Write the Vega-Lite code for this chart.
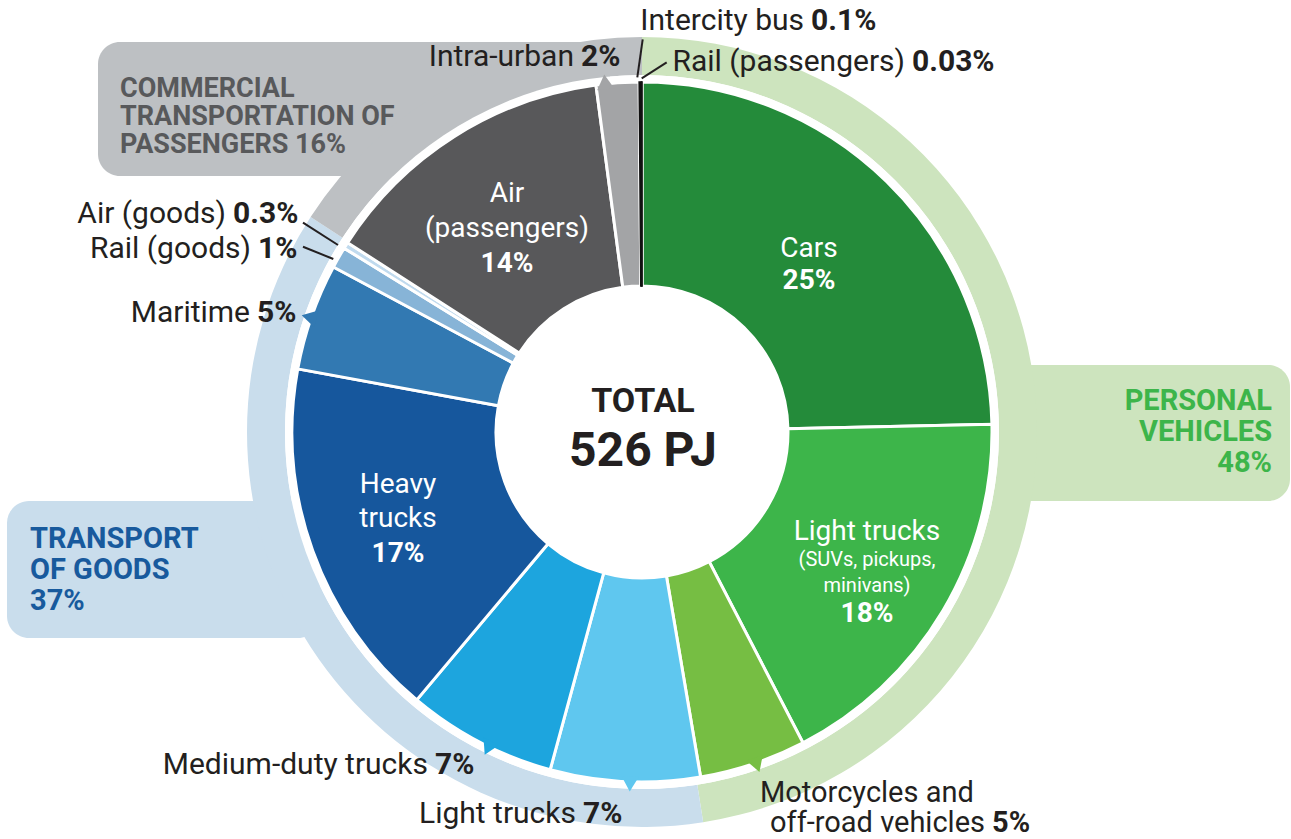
{
  "$schema": "https://vega.github.io/schema/vega-lite/v6.json",
  "width": 1291,
  "height": 839,
  "autosize": {"type": "fit", "contains": "padding"},
  "padding": 0,
  "background": "white",
  "config": {
    "view": {"stroke": null},
    "axis": {"disable": true},
    "font": "Roboto",
    "text": {"baseline": "alphabetic", "font": "Roboto"}
  },
  "datasets": {
    "seg": [
      {"ord": 1, "group": "Personal vehicles", "seg": "Cars", "name": "Cars", "lines": ["Cars"], "pct": "25%", "value": 25},
      {"ord": 2, "group": "Personal vehicles", "seg": "Light trucks (personal)", "name": "Light trucks", "lines": ["Light trucks"], "note": ["(SUVs, pickups,", "minivans)"], "pct": "18%", "value": 18},
      {"ord": 3, "group": "Personal vehicles", "seg": "Motorcycles and off-road vehicles", "name": "Motorcycles and off-road vehicles", "lines": ["Motorcycles and", "off-road vehicles"], "pct": "5%", "value": 5},
      {"ord": 4, "group": "Transport of goods", "seg": "Light trucks (goods)", "name": "Light trucks", "lines": ["Light trucks"], "pct": "7%", "value": 7},
      {"ord": 5, "group": "Transport of goods", "seg": "Medium-duty trucks", "name": "Medium-duty trucks", "lines": ["Medium-duty trucks"], "pct": "7%", "value": 7},
      {"ord": 6, "group": "Transport of goods", "seg": "Heavy trucks", "name": "Heavy trucks", "lines": ["Heavy", "trucks"], "pct": "17%", "value": 17},
      {"ord": 7, "group": "Transport of goods", "seg": "Maritime", "name": "Maritime", "lines": ["Maritime"], "pct": "5%", "value": 5},
      {"ord": 8, "group": "Transport of goods", "seg": "Rail (goods)", "name": "Rail (goods)", "lines": ["Rail (goods)"], "pct": "1%", "value": 1},
      {"ord": 9, "group": "Transport of goods", "seg": "Air (goods)", "name": "Air (goods)", "lines": ["Air (goods)"], "pct": "0.3%", "value": 0.3},
      {"ord": 10, "group": "Commercial transportation of passengers", "seg": "Air (passengers)", "name": "Air (passengers)", "lines": ["Air", "(passengers)"], "pct": "14%", "value": 14},
      {"ord": 11, "group": "Commercial transportation of passengers", "seg": "Intra-urban", "name": "Intra-urban", "lines": ["Intra-urban"], "pct": "2%", "value": 2},
      {"ord": 12, "group": "Commercial transportation of passengers", "seg": "Intercity bus", "name": "Intercity bus", "lines": ["Intercity bus"], "pct": "0.1%", "value": 0.1},
      {"ord": 13, "group": "Commercial transportation of passengers", "seg": "Rail (passengers)", "name": "Rail (passengers)", "lines": ["Rail (passengers)"], "pct": "0.03%", "value": 0.03}
    ],
    "grp": [
      {"ord": 1, "group": "Personal vehicles", "lines": ["PERSONAL", "VEHICLES", "48%"], "value": 48},
      {"ord": 2, "group": "Transport of goods", "lines": ["TRANSPORT", "OF GOODS", "37%"], "value": 37},
      {"ord": 3, "group": "Commercial transportation of passengers", "lines": ["COMMERCIAL", "TRANSPORTATION OF", "PASSENGERS 16%"], "value": 16}
    ],
    "tot": [{"title": "TOTAL", "total": "526 PJ"}]
  },
  "layer": [
    {
      "data": {"name": "grp"},
      "transform": [{"filter": "datum.ord == 1"}],
      "mark": {"type": "rect", "color": "#cde4be", "cornerRadius": 22},
      "encoding": {
        "x": {"datum": 3.63, "type": "quantitative", "scale": {"domain": [-6.42, 6.49], "nice": false, "zero": false}, "axis": null},
        "x2": {"datum": 6.48},
        "y": {"datum": 0.67, "type": "quantitative", "scale": {"domain": [-4.07, 4.32], "nice": false, "zero": false}, "axis": null},
        "y2": {"datum": -0.69}
      }
    },
    {
      "data": {"name": "grp"},
      "transform": [{"filter": "datum.ord == 2"}],
      "mark": {"type": "rect", "color": "#c9ddec", "cornerRadius": 22},
      "encoding": {"x": {"datum": -6.35}, "x2": {"datum": -3.22}, "y": {"datum": -0.69}, "y2": {"datum": -2.06}}
    },
    {
      "data": {"name": "grp"},
      "transform": [{"filter": "datum.ord == 3"}],
      "mark": {"type": "rect", "color": "#bdc0c3", "cornerRadius": 22},
      "encoding": {"x": {"datum": -5.44}, "x2": {"datum": -0.32}, "y": {"datum": 3.9}, "y2": {"datum": 2.56}}
    },
    {
      "data": {"name": "grp"},
      "mark": {"type": "arc", "radius": 395, "radius2": 357},
      "encoding": {
        "x": {"datum": 0},
        "y": {"datum": 0},
        "theta": {"field": "value", "type": "quantitative", "stack": true},
        "order": {"field": "ord", "type": "quantitative"},
        "color": {"field": "group", "type": "nominal", "legend": null,
          "scale": {"domain": ["Personal vehicles", "Transport of goods", "Commercial transportation of passengers"], "range": ["#cde4be", "#c9ddec", "#bdc0c3"]}}
      }
    },
    {
      "data": {"name": "tot"},
      "mark": {"type": "arc", "radius": 357, "radius2": 0, "theta": 0, "theta2": 6.2832, "color": "white"},
      "encoding": {"x": {"datum": 0}, "y": {"datum": 0}}
    },
    {
      "data": {"name": "seg"},
      "mark": {"type": "arc", "radius": 350, "radius2": 146, "stroke": "white", "strokeWidth": 3},
      "encoding": {
        "x": {"datum": 0},
        "y": {"datum": 0},
        "theta": {"field": "value", "type": "quantitative", "stack": true},
        "order": {"field": "ord", "type": "quantitative"},
        "color": {"field": "seg", "type": "nominal", "legend": null,
          "scale": {
            "domain": ["Cars", "Light trucks (personal)", "Motorcycles and off-road vehicles", "Light trucks (goods)", "Medium-duty trucks", "Heavy trucks", "Maritime", "Rail (goods)", "Air (goods)", "Air (passengers)", "Intra-urban", "Intercity bus", "Rail (passengers)"],
            "range": ["#248b3a", "#3db54a", "#76be43", "#5fc7ef", "#1da5de", "#16579d", "#3279b2", "#87b4d7", "#c0daee", "#58585a", "#a3a4a6", "#231f20", "#000000"]
          }}
      }
    },
    {
      "data": {"name": "seg"},
      "mark": {"type": "arc", "radius": 350, "radius2": 146, "fill": "#111111", "stroke": "#111111", "strokeWidth": 1.6},
      "encoding": {
        "x": {"datum": 0},
        "y": {"datum": 0},
        "theta": {"field": "value", "type": "quantitative", "stack": true},
        "order": {"field": "ord", "type": "quantitative"},
        "fillOpacity": {"condition": {"test": "datum.ord >= 12", "value": 1}, "value": 0},
        "strokeOpacity": {"condition": {"test": "datum.ord >= 12", "value": 1}, "value": 0}
      }
    },
    {
      "data": {"name": "seg"}, "transform": [{"filter": "datum.ord == 11"}],
      "mark": {"type": "point", "shape": "triangle-up", "filled": true, "size": 300, "opacity": 1, "angle": 354, "color": "#a3a4a6"},
      "encoding": {"x": {"datum": -0.37}, "y": {"datum": 3.5}}
    },
    {
      "data": {"name": "seg"}, "transform": [{"filter": "datum.ord == 7"}],
      "mark": {"type": "point", "shape": "triangle-up", "filled": true, "size": 300, "opacity": 1, "angle": 284, "color": "#3279b2"},
      "encoding": {"x": {"datum": -3.33}, "y": {"datum": 1.15}}
    },
    {
      "data": {"name": "seg"}, "transform": [{"filter": "datum.ord == 5"}],
      "mark": {"type": "point", "shape": "triangle-up", "filled": true, "size": 300, "opacity": 1, "angle": 206, "color": "#1da5de"},
      "encoding": {"x": {"datum": -1.54}, "y": {"datum": -3.16}}
    },
    {
      "data": {"name": "seg"}, "transform": [{"filter": "datum.ord == 4"}],
      "mark": {"type": "point", "shape": "triangle-up", "filled": true, "size": 300, "opacity": 1, "angle": 182, "color": "#5fc7ef"},
      "encoding": {"x": {"datum": -0.12}, "y": {"datum": -3.52}}
    },
    {
      "data": {"name": "seg"}, "transform": [{"filter": "datum.ord == 3"}],
      "mark": {"type": "point", "shape": "triangle-up", "filled": true, "size": 300, "opacity": 1, "angle": 161, "color": "#76be43"},
      "encoding": {"x": {"datum": 1.15}, "y": {"datum": -3.33}}
    },
    {
      "data": {"name": "seg"},
      "transform": [{"filter": "datum.ord == 12"}],
      "mark": {"type": "rule", "color": "#231f20", "strokeWidth": 2},
      "encoding": {"x": {"datum": 0.007}, "y": {"datum": 3.927}, "x2": {"datum": -0.047}, "y2": {"datum": 3.547}}
    },
    {
      "data": {"name": "seg"},
      "transform": [{"filter": "datum.ord == 13"}],
      "mark": {"type": "rule", "color": "#231f20", "strokeWidth": 2},
      "encoding": {"x": {"datum": 0.247}, "y": {"datum": 3.697}, "x2": {"datum": -0.003}, "y2": {"datum": 3.537}}
    },
    {
      "data": {"name": "seg"},
      "transform": [{"filter": "datum.ord == 9"}],
      "mark": {"type": "rule", "color": "#231f20", "strokeWidth": 2},
      "encoding": {"x": {"datum": -3.39}, "y": {"datum": 2.093}, "x2": {"datum": -3.04}, "y2": {"datum": 1.87}}
    },
    {
      "data": {"name": "seg"},
      "transform": [{"filter": "datum.ord == 8"}],
      "mark": {"type": "rule", "color": "#231f20", "strokeWidth": 2},
      "encoding": {"x": {"datum": -3.39}, "y": {"datum": 1.853}, "x2": {"datum": -3.087}, "y2": {"datum": 1.73}}
    },
    {
      "data": {"name": "seg"}, "transform": [{"filter": "datum.ord == 12"}],
      "mark": {"type": "text", "align": "right", "dx": -7, "fontSize": 30, "color": "#231f20"},
      "encoding": {"x": {"datum": 1.69}, "y": {"datum": 4.02}, "text": {"field": "name"}}
    },
    {
      "data": {"name": "seg"}, "transform": [{"filter": "datum.ord == 12"}],
      "mark": {"type": "text", "align": "left", "fontSize": 30, "fontWeight": "bold", "color": "#231f20"},
      "encoding": {"x": {"datum": 1.69}, "y": {"datum": 4.02}, "text": {"field": "pct"}}
    },
    {
      "data": {"name": "seg"}, "transform": [{"filter": "datum.ord == 13"}],
      "mark": {"type": "text", "align": "right", "dx": -7, "fontSize": 30, "color": "#231f20"},
      "encoding": {"x": {"datum": 2.7}, "y": {"datum": 3.61}, "text": {"field": "name"}}
    },
    {
      "data": {"name": "seg"}, "transform": [{"filter": "datum.ord == 13"}],
      "mark": {"type": "text", "align": "left", "fontSize": 30, "fontWeight": "bold", "color": "#231f20"},
      "encoding": {"x": {"datum": 2.7}, "y": {"datum": 3.61}, "text": {"field": "pct"}}
    },
    {
      "data": {"name": "seg"}, "transform": [{"filter": "datum.ord == 11"}],
      "mark": {"type": "text", "align": "right", "dx": -7, "fontSize": 30, "color": "#231f20"},
      "encoding": {"x": {"datum": -0.61}, "y": {"datum": 3.66}, "text": {"field": "name"}}
    },
    {
      "data": {"name": "seg"}, "transform": [{"filter": "datum.ord == 11"}],
      "mark": {"type": "text", "align": "left", "fontSize": 30, "fontWeight": "bold", "color": "#231f20"},
      "encoding": {"x": {"datum": -0.61}, "y": {"datum": 3.66}, "text": {"field": "pct"}}
    },
    {
      "data": {"name": "seg"}, "transform": [{"filter": "datum.ord == 9"}],
      "mark": {"type": "text", "align": "right", "dx": -7, "fontSize": 30, "color": "#231f20"},
      "encoding": {"x": {"datum": -4.09}, "y": {"datum": 2.09}, "text": {"field": "name"}}
    },
    {
      "data": {"name": "seg"}, "transform": [{"filter": "datum.ord == 9"}],
      "mark": {"type": "text", "align": "left", "fontSize": 30, "fontWeight": "bold", "color": "#231f20"},
      "encoding": {"x": {"datum": -4.09}, "y": {"datum": 2.09}, "text": {"field": "pct"}}
    },
    {
      "data": {"name": "seg"}, "transform": [{"filter": "datum.ord == 8"}],
      "mark": {"type": "text", "align": "right", "dx": -7, "fontSize": 30, "color": "#231f20"},
      "encoding": {"x": {"datum": -3.84}, "y": {"datum": 1.74}, "text": {"field": "name"}}
    },
    {
      "data": {"name": "seg"}, "transform": [{"filter": "datum.ord == 8"}],
      "mark": {"type": "text", "align": "left", "fontSize": 30, "fontWeight": "bold", "color": "#231f20"},
      "encoding": {"x": {"datum": -3.84}, "y": {"datum": 1.74}, "text": {"field": "pct"}}
    },
    {
      "data": {"name": "seg"}, "transform": [{"filter": "datum.ord == 7"}],
      "mark": {"type": "text", "align": "right", "dx": -7, "fontSize": 30, "color": "#231f20"},
      "encoding": {"x": {"datum": -3.85}, "y": {"datum": 1.1}, "text": {"field": "name"}}
    },
    {
      "data": {"name": "seg"}, "transform": [{"filter": "datum.ord == 7"}],
      "mark": {"type": "text", "align": "left", "fontSize": 30, "fontWeight": "bold", "color": "#231f20"},
      "encoding": {"x": {"datum": -3.85}, "y": {"datum": 1.1}, "text": {"field": "pct"}}
    },
    {
      "data": {"name": "seg"}, "transform": [{"filter": "datum.ord == 5"}],
      "mark": {"type": "text", "align": "right", "dx": -7, "fontSize": 30, "color": "#231f20"},
      "encoding": {"x": {"datum": -2.07}, "y": {"datum": -3.42}, "text": {"field": "name"}}
    },
    {
      "data": {"name": "seg"}, "transform": [{"filter": "datum.ord == 5"}],
      "mark": {"type": "text", "align": "left", "fontSize": 30, "fontWeight": "bold", "color": "#231f20"},
      "encoding": {"x": {"datum": -2.07}, "y": {"datum": -3.42}, "text": {"field": "pct"}}
    },
    {
      "data": {"name": "seg"}, "transform": [{"filter": "datum.ord == 4"}],
      "mark": {"type": "text", "align": "right", "dx": -7, "fontSize": 30, "color": "#231f20"},
      "encoding": {"x": {"datum": -0.59}, "y": {"datum": -3.91}, "text": {"field": "name"}}
    },
    {
      "data": {"name": "seg"}, "transform": [{"filter": "datum.ord == 4"}],
      "mark": {"type": "text", "align": "left", "fontSize": 30, "fontWeight": "bold", "color": "#231f20"},
      "encoding": {"x": {"datum": -0.59}, "y": {"datum": -3.91}, "text": {"field": "pct"}}
    },
    {
      "data": {"name": "seg"}, "transform": [{"filter": "datum.ord == 3"}],
      "mark": {"type": "text", "align": "left", "fontSize": 29, "color": "#231f20"},
      "encoding": {"x": {"datum": 1.18}, "y": {"datum": -3.7}, "text": {"field": "lines[0]"}}
    },
    {
      "data": {"name": "seg"}, "transform": [{"filter": "datum.ord == 3"}],
      "mark": {"type": "text", "align": "right", "dx": -7, "fontSize": 29, "color": "#231f20"},
      "encoding": {"x": {"datum": 3.5}, "y": {"datum": -4.0}, "text": {"field": "lines[1]"}}
    },
    {
      "data": {"name": "seg"}, "transform": [{"filter": "datum.ord == 3"}],
      "mark": {"type": "text", "align": "left", "fontSize": 29, "fontWeight": "bold", "color": "#231f20"},
      "encoding": {"x": {"datum": 3.5}, "y": {"datum": -4.0}, "text": {"field": "pct"}}
    },
    {
      "data": {"name": "seg"}, "transform": [{"filter": "datum.ord == 1"}],
      "mark": {"type": "text", "align": "center", "fontSize": 28, "color": "white"},
      "encoding": {"x": {"datum": 1.67}, "y": {"datum": 1.75}, "text": {"field": "lines"}}
    },
    {
      "data": {"name": "seg"}, "transform": [{"filter": "datum.ord == 1"}],
      "mark": {"type": "text", "align": "center", "fontSize": 28, "fontWeight": "bold", "color": "white"},
      "encoding": {"x": {"datum": 1.67}, "y": {"datum": 1.43}, "text": {"field": "pct"}}
    },
    {
      "data": {"name": "seg"}, "transform": [{"filter": "datum.ord == 2"}],
      "mark": {"type": "text", "align": "center", "fontSize": 28, "color": "white"},
      "encoding": {"x": {"datum": 2.25}, "y": {"datum": -1.08}, "text": {"field": "lines"}}
    },
    {
      "data": {"name": "seg"}, "transform": [{"filter": "datum.ord == 2"}],
      "mark": {"type": "text", "align": "center", "fontSize": 20, "lineHeight": 26, "color": "white"},
      "encoding": {"x": {"datum": 2.25}, "y": {"datum": -1.34}, "text": {"field": "note"}}
    },
    {
      "data": {"name": "seg"}, "transform": [{"filter": "datum.ord == 2"}],
      "mark": {"type": "text", "align": "center", "fontSize": 28, "fontWeight": "bold", "color": "white"},
      "encoding": {"x": {"datum": 2.25}, "y": {"datum": -1.9}, "text": {"field": "pct"}}
    },
    {
      "data": {"name": "seg"}, "transform": [{"filter": "datum.ord == 6"}],
      "mark": {"type": "text", "align": "center", "fontSize": 28, "lineHeight": 34, "color": "white"},
      "encoding": {"x": {"datum": -2.44}, "y": {"datum": -0.61}, "text": {"field": "lines"}}
    },
    {
      "data": {"name": "seg"}, "transform": [{"filter": "datum.ord == 6"}],
      "mark": {"type": "text", "align": "center", "fontSize": 28, "fontWeight": "bold", "color": "white"},
      "encoding": {"x": {"datum": -2.44}, "y": {"datum": -1.3}, "text": {"field": "pct"}}
    },
    {
      "data": {"name": "seg"}, "transform": [{"filter": "datum.ord == 10"}],
      "mark": {"type": "text", "align": "center", "fontSize": 28, "lineHeight": 35, "color": "white"},
      "encoding": {"x": {"datum": -1.35}, "y": {"datum": 2.3}, "text": {"field": "lines"}}
    },
    {
      "data": {"name": "seg"}, "transform": [{"filter": "datum.ord == 10"}],
      "mark": {"type": "text", "align": "center", "fontSize": 28, "fontWeight": "bold", "color": "white"},
      "encoding": {"x": {"datum": -1.35}, "y": {"datum": 1.6}, "text": {"field": "pct"}}
    },
    {
      "data": {"name": "tot"},
      "mark": {"type": "text", "align": "center", "fontSize": 34, "fontWeight": "bold", "color": "#231f20"},
      "encoding": {"x": {"datum": 0.01}, "y": {"datum": 0.2}, "text": {"field": "title"}}
    },
    {
      "data": {"name": "tot"},
      "mark": {"type": "text", "align": "center", "fontSize": 48, "fontWeight": "bold", "color": "#231f20"},
      "encoding": {"x": {"datum": 0.01}, "y": {"datum": -0.34}, "text": {"field": "total"}}
    },
    {
      "data": {"name": "grp"}, "transform": [{"filter": "datum.ord == 1"}],
      "mark": {"type": "text", "align": "right", "fontSize": 29, "fontWeight": "bold", "lineHeight": 31, "color": "#3db54a"},
      "encoding": {"x": {"datum": 6.3}, "y": {"datum": 0.22}, "text": {"field": "lines"}}
    },
    {
      "data": {"name": "grp"}, "transform": [{"filter": "datum.ord == 2"}],
      "mark": {"type": "text", "align": "left", "fontSize": 29, "fontWeight": "bold", "lineHeight": 31, "color": "#185a9d"},
      "encoding": {"x": {"datum": -6.12}, "y": {"datum": -1.16}, "text": {"field": "lines"}}
    },
    {
      "data": {"name": "grp"}, "transform": [{"filter": "datum.ord == 3"}],
      "mark": {"type": "text", "align": "left", "fontSize": 27, "fontWeight": "bold", "lineHeight": 28, "color": "#58595b"},
      "encoding": {"x": {"datum": -5.22}, "y": {"datum": 3.35}, "text": {"field": "lines"}}
    }
  ],
  "resolve": {"scale": {"theta": "independent", "color": "independent"}}
}
